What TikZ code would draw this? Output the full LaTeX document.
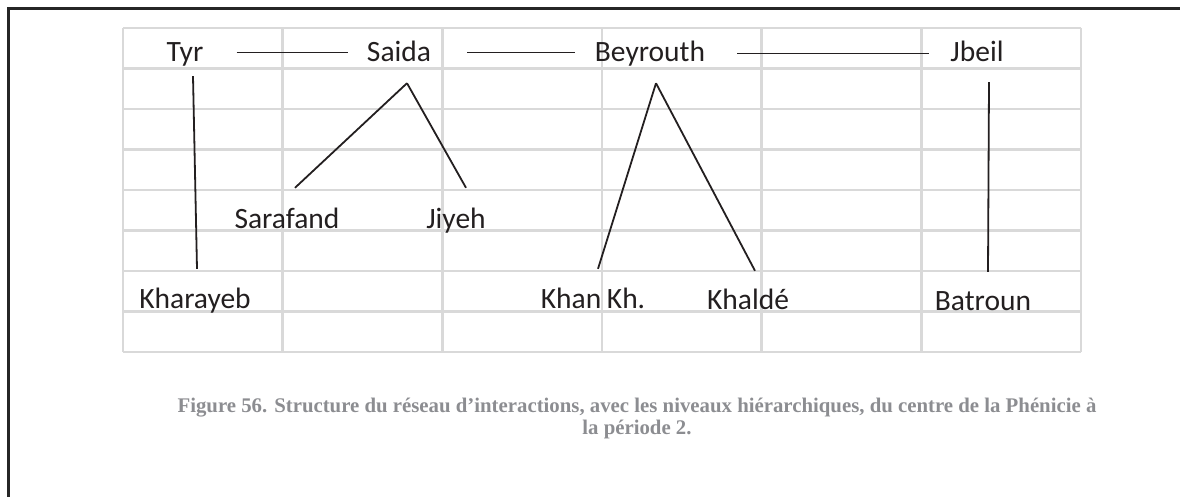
\documentclass[tikz,border=0pt]{standalone}
\usepackage{fontspec}
\newfontfamily\townfont{Carlito}
\newfontfamily\capfont{Liberation Serif}
\usetikzlibrary{positioning}
\definecolor{ink}{RGB}{35,31,32}
\definecolor{cellgray}{RGB}{217,217,217}
\definecolor{capgray}{RGB}{140,141,145}

\begin{document}
\begin{tikzpicture}[x=1pt, y=-1pt]
\tikzstyle{town}=[inner sep=0, anchor=base, text height=19pt, text depth=6pt, text=ink, font=\townfont\fontsize{29.5}{35}\selectfont]
\tikzstyle{link}=[draw=ink, line width=1.8pt]
\tikzstyle{cell}=[draw=cellgray, line width=2.6pt]
\useasboundingbox (0,0) rectangle (1180,497);
% grid
\foreach \r in {0,...,8} \draw[cell] (123,28+\r*40.5) -- (1081,28+\r*40.5);
\foreach \c in {0,...,6} \draw[cell] (123+\c*159.67,28) -- (123+\c*159.67,352);
% frame
\draw[line width=3pt, draw=black!85] (8,497) -- (8,9) -- (1180,9);
% level 1
\node[town] (tyr) at (185,62) {Tyr};
\node[town] (saida) at (399,62) {Saida};
\node[town] (beyrouth) at (650,62) {Beyrouth};
\node[town] (jbeil) at (977,62) {Jbeil};
% level 2
\node[town] (sarafand) at (287,228) {Sarafand};
\node[town] (jiyeh) at (456,228) {Jiyeh};
% level 3
\node[town] (kharayeb) at (195,308) {Kharayeb};
\node[town] (khankh) at (593,308) {Khan\kern-1pt\ Kh.};
\node[town] (khalde) at (748,309) {Khaldé};
\node[town] (batroun) at (983,310) {Batroun};
% links
\draw[link] ([shift={(33,-3)}]tyr.east) -- ([shift={(-19,-3)}]saida.west);
\draw[link] ([shift={(36,-3)}]saida.east) -- ([shift={(-20,-3)}]beyrouth.west);
\draw[link] ([shift={(32,-2)}]beyrouth.east) -- ([shift={(-21,-2)}]jbeil.west);
\draw[link] ([shift={(8,8)}]tyr.south) -- ([shift={(2,-20)}]kharayeb.north);
\draw[link] ([shift={(8,15)}]saida.south) -- ([shift={(8,-21)}]sarafand.north);
\draw[link] ([shift={(8,15)}]saida.south) -- ([shift={(10,-21)}]jiyeh.north);
\draw[link] ([shift={(6,15)}]beyrouth.south) -- ([shift={(5,-20)}]khankh.north);
\draw[link] ([shift={(6,15)}]beyrouth.south) -- ([shift={(7,-19)}]khalde.north);
\draw[link] ([shift={(12,14)}]jbeil.south) -- ([shift={(5,-19)}]batroun.north);
% caption
\node[anchor=north, align=center, text=capgray, inner sep=0,
  font=\capfont\bfseries\fontsize{20.8}{21.5}\selectfont] (caption) at (637,398)
  {Figure 56. Structure du réseau d’interactions, avec les niveaux hiérarchiques, du centre de la Phénicie à\\la période 2.};
\end{tikzpicture}
\end{document}
